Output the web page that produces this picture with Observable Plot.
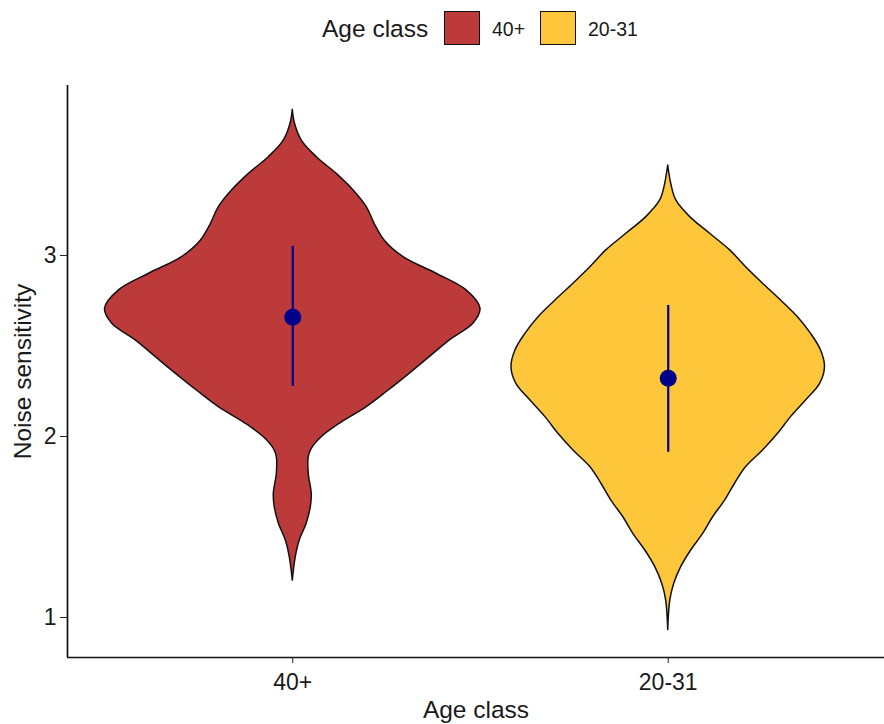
<!DOCTYPE html>
<html>
<head>
<meta charset="utf-8">
<script src="https://cdn.jsdelivr.net/npm/d3@7"></script>
<script src="https://cdn.jsdelivr.net/npm/@observablehq/plot@0.6"></script>
<style>
  body { margin: 0; background: #fff; font-family: "Liberation Sans", Arial, sans-serif; }
  #wrap { width: 884px; height: 724px; position: relative; }
  #legend { position: relative; width: 884px; height: 62px; color: #1a1a1a; }
  #legend .t { position: absolute; top: 0; height: 58px; line-height: 58px; white-space: nowrap; }
  #legend .sw { position: absolute; top: 11px; width: 34px; height: 32px; border: 1.3px solid #111; }
</style>
</head>
<body>
<div id="wrap">
  <div id="legend"></div>
  <div id="chart"></div>
</div>
<script>
// Age classes, their fills, and the y-axis ticks
const ageClasses = ["40+", "20-31"];
const fills = ["#BC3A3A", "#FEC63B"];
const yTicks = [1, 2, 3];

// Violin outlines: noise-sensitivity level and relative density (1 = widest)
const oldLevels  = [3.805, 3.728, 3.635, 3.543, 3.451, 3.359, 3.267, 3.175, 3.083, 2.991, 2.899, 2.807, 2.706, 2.624, 2.530, 2.438, 2.346, 2.254, 2.162, 2.070, 1.996, 1.932, 1.886, 1.794, 1.683, 1.609, 1.518, 1.425, 1.333, 1.204];
const oldDensity = [0, 0.012, 0.048, 0.128, 0.234, 0.324, 0.394, 0.436, 0.489, 0.590, 0.766, 0.926, 1.000, 0.963, 0.835, 0.729, 0.622, 0.511, 0.394, 0.250, 0.154, 0.101, 0.085, 0.085, 0.101, 0.096, 0.074, 0.037, 0.016, 0];
const youngLevels  = [3.497, 3.396, 3.304, 3.212, 3.120, 3.028, 2.935, 2.844, 2.751, 2.659, 2.567, 2.475, 2.383, 2.291, 2.199, 2.107, 2.015, 1.923, 1.831, 1.739, 1.646, 1.554, 1.462, 1.370, 1.278, 1.186, 1.094, 0.931];
const youngDensity = [0, 0.016, 0.043, 0.117, 0.223, 0.330, 0.415, 0.505, 0.601, 0.691, 0.761, 0.814, 0.835, 0.809, 0.734, 0.654, 0.585, 0.505, 0.415, 0.356, 0.303, 0.239, 0.186, 0.122, 0.069, 0.032, 0.011, 0];

// Mean and interval per age class
const means = [2.659, 2.322];
const lower = [2.276, 1.913];
const upper = [3.050, 2.724];

const halfWidth = 0.5; // half-width of the widest violin, in x units

const outlines = [[oldLevels, oldDensity], [youngLevels, youngDensity]];
const violinRows = outlines.flatMap(([levels, dens], i) =>
  levels.map((y, j) => ({
    group: ageClasses[i],
    y,
    x1: i + 1 - dens[j] * halfWidth,
    x2: i + 1 + dens[j] * halfWidth
  }))
);
const summary = ageClasses.map((g, i) => ({
  group: g, pos: i + 1, mean: means[i], lo: lower[i], hi: upper[i]
}));

// Legend above the plot
const legend = document.getElementById("legend");
const items = [
  {cls: "t", left: 322, text: "Age class", size: 24.5},
  {cls: "sw", left: 444, color: fills[0]},
  {cls: "t", left: 492, text: ageClasses[0], size: 19.5},
  {cls: "sw", left: 540, color: fills[1]},
  {cls: "t", left: 588, text: ageClasses[1], size: 19.5}
];
for (const it of items) {
  const el = document.createElement("div");
  el.className = it.cls;
  el.style.left = it.left + "px";
  if (it.text) { el.textContent = it.text; el.style.fontSize = it.size + "px"; }
  if (it.color) el.style.background = it.color;
  legend.appendChild(el);
}

const chart = Plot.plot({
  width: 884,
  height: 662,
  marginTop: 23,
  marginBottom: 67,
  marginLeft: 67,
  marginRight: 0,
  style: {fontFamily: "Liberation Sans, Arial, sans-serif", background: "#fff", color: "#1a1a1a"},
  x: {domain: [0.4, 2.6], range: [67, 893]},
  y: {domain: [0.779, 3.939]},
  color: {domain: ageClasses, range: fills},
  marks: [
    Plot.areaX(violinRows, {
      y: "y", x1: "x1", x2: "x2", z: "group", fill: "group",
      stroke: "#111", strokeWidth: 1.5, curve: "catmull-rom"
    }),
    Plot.ruleX(summary, {x: "pos", y1: "lo", y2: "hi", stroke: "#00008B", strokeWidth: 2.2}),
    Plot.dot(summary, {x: "pos", y: "mean", r: 8.5, fill: "#00008B", stroke: "none"}),
    Plot.ruleX([0.4], {stroke: "#111", strokeWidth: 1.7}),
    Plot.ruleY([0.779], {stroke: "#111", strokeWidth: 1.7}),
    Plot.axisY({ticks: yTicks, tickFormat: d3.format("d"), tickSize: 7, tickPadding: 4, fontSize: 23, label: null, stroke: "#222", fill: "#1a1a1a"}),
    Plot.axisX({ticks: [1, 2], tickFormat: d => ageClasses[d - 1], tickSize: 6, tickPadding: 10, fontSize: 23, label: null, stroke: "#222", fill: "#1a1a1a"}),
    Plot.text(["Noise sensitivity"], {frameAnchor: "left", dx: -44, rotate: -90, fontSize: 24.5, textAnchor: "middle", lineAnchor: "middle", fill: "#1a1a1a"}),
    Plot.text(["Age class"], {frameAnchor: "bottom", dy: 53, fontSize: 24.5, textAnchor: "middle", lineAnchor: "middle", fill: "#1a1a1a"})
  ]
});
document.getElementById("chart").appendChild(chart);
</script>
</body>
</html>
